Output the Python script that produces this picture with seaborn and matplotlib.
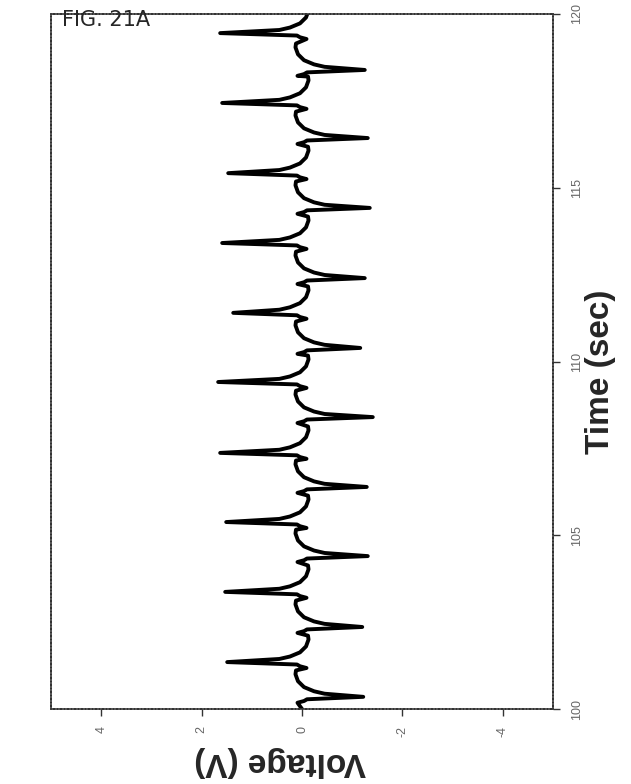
import numpy as np
import pandas as pd
import matplotlib
matplotlib.use("Agg")
import matplotlib.pyplot as plt
import seaborn as sns

# Event timing (s) and peak voltage (V) for the alternating pulses
pos_times = [101.35, 103.37, 105.38, 107.37, 109.41, 111.40, 113.41, 115.42, 117.44, 119.45]
pos_peaks = [1.49, 1.53, 1.51, 1.63, 1.67, 1.37, 1.59, 1.47, 1.59, 1.63]
neg_times = [100.35, 102.36, 104.40, 106.39, 108.40, 110.39, 112.40, 114.42, 116.43, 118.39]
neg_peaks = [-1.22, -1.20, -1.31, -1.29, -1.41, -1.16, -1.25, -1.35, -1.31, -1.25]

# Shape around each pulse: offset from pulse (s) and voltage for a positive pulse
# (None marks the peak; negative pulses use the mirrored shape)
shape_offsets = [-0.17, -0.12, -0.07, 0.00, 0.09, 0.16, 0.28, 0.45, 0.65, 0.76]
shape_volts = [-0.09, 0.04, 0.10, None, 0.45, 0.24, 0.04, -0.08, -0.13, -0.12]

start_time, start_volt = 100.0, 0.0

time_ticks = [100, 105, 110, 115, 120]
time_tick_labels = ["100", "105", "110", "115", "120"]
volt_ticks = [4, 2, 0, -2, -4]
volt_tick_labels = ["4", "2", "0", "-2", "-4"]

# Assemble the trace
rows = [(start_time, start_volt)]
events = sorted(list(zip(pos_times, pos_peaks)) + list(zip(neg_times, neg_peaks)))
for t0, peak in events:
    sign = 1.0 if peak > 0 else -1.0
    for off, v in zip(shape_offsets, shape_volts):
        rows.append((t0 + off, peak if v is None else sign * v))
trace = pd.DataFrame(rows, columns=["time", "voltage"])

sns.set_style("white")
plt.rcParams["font.family"] = ["Liberation Sans", "DejaVu Sans"]

W, H = 631, 784
fig = plt.figure(figsize=(W / 100, H / 100), dpi=100)
left, right, top, bottom = 51, 553, 14, 709
ax = fig.add_axes([left / W, 1 - bottom / H, (right - left) / W, (bottom - top) / H])

sns.lineplot(data=trace, x="voltage", y="time", orient="y", sort=False,
             estimator=None, color="black", linewidth=2.8, ax=ax)

ax.set_xlim(5, -5)
ax.set_ylim(100, 120)

for s in ax.spines.values():
    s.set_visible(True)
    s.set_color("#333333")
    s.set_linewidth(1.2)
    s.set_linestyle((0, (1.5, 0.6)))

ax.set_xticks(volt_ticks)
ax.set_xticklabels(volt_tick_labels, rotation=90, va="top", ha="center",
                   fontsize=9, color="#666666")
ax.yaxis.tick_right()
ax.set_yticks(time_ticks)
ax.set_yticklabels(time_tick_labels, rotation=90, va="center", ha="left",
                   fontsize=9, color="#666666")
ax.tick_params(axis="x", bottom=True, top=False, direction="out", length=5,
               width=1, color="#333333", pad=7)
ax.tick_params(axis="y", right=True, left=False, direction="out", length=5,
               width=1, color="#333333", pad=8)

ax.set_xlabel("Voltage (V)", rotation=180, fontsize=24, fontweight="bold",
              va="center", ha="center")
ax.xaxis.set_label_coords((280 - left) / (right - left), (bottom - 762) / (bottom - top))
ax.yaxis.set_label_position("right")
ax.set_ylabel("Time (sec)", rotation=90, fontsize=24, fontweight="bold",
              va="center", ha="center")
ax.yaxis.set_label_coords((601 - left) / (right - left), (bottom - 372) / (bottom - top))

fig.text(62 / W, 1 - 20 / H, "FIG. 21A", fontsize=15, ha="left", va="center",
         family=["DejaVu Sans"])

fig.savefig("out.png", dpi=100)
